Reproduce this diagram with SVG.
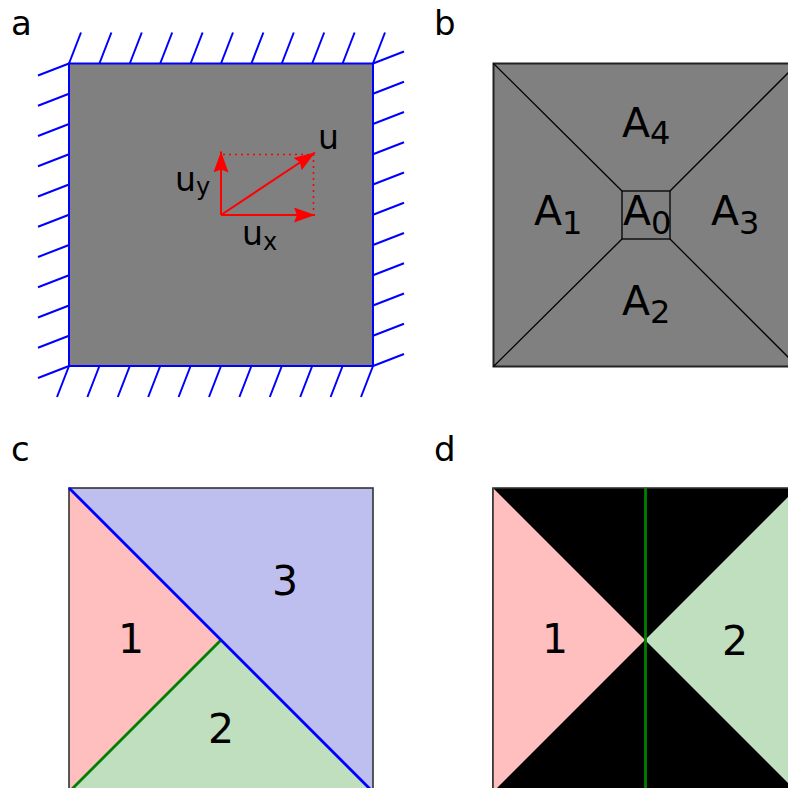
<svg xmlns="http://www.w3.org/2000/svg" width="788" height="788" viewBox="0 0 788 788">
<defs>
<style>
text{font-family:"DejaVu Sans","Verdana",sans-serif;fill:#000}
.plabel{font-size:34px}
.big{font-size:41px}
.sub{font-size:32px}
.ulab{font-size:33px}
.usub{font-size:24px}
.hatch{stroke:#0000ff;stroke-width:2;fill:none}
.vec{stroke:#ff0000;stroke-width:2;fill:none}
.dot{stroke:#ff0000;stroke-width:1.6;stroke-dasharray:2 4;fill:none}
.frame{stroke:#333;stroke-width:1.6}
</style>
<marker id="ah" viewBox="0 0 21 15" markerUnits="userSpaceOnUse" markerWidth="21" markerHeight="15" refX="21" refY="7.5" orient="auto">
<path d="M0,0 L21,7.5 L0,15 L3,7.5 z" fill="#ff0000"/>
</marker>
</defs>
<rect width="788" height="788" fill="#fff"/>

<!-- Panel labels -->
<g id="labels">
<text class="plabel" x="11" y="35">a</text>
<text class="plabel" x="434" y="35">b</text>
<text class="plabel" x="11" y="461">c</text>
<text class="plabel" x="434" y="461">d</text>
</g>

<!-- Panel a -->
<g id="panel-a">
<rect x="69" y="63.5" width="304" height="302.5" fill="#808080" stroke="#0000ff" stroke-width="2"/>
<path class="hatch" d="M69,63.5 l12,-31 M99.4,63.5 l12,-31 M129.8,63.5 l12,-31 M160.2,63.5 l12,-31 M190.6,63.5 l12,-31 M221,63.5 l12,-31 M251.4,63.5 l12,-31 M281.8,63.5 l12,-31 M312.2,63.5 l12,-31 M342.6,63.5 l12,-31 M373,63.5 l12,-31"/>
<path class="hatch" d="M69,366 l-12,31 M99.4,366 l-12,31 M129.8,366 l-12,31 M160.2,366 l-12,31 M190.6,366 l-12,31 M221,366 l-12,31 M251.4,366 l-12,31 M281.8,366 l-12,31 M312.2,366 l-12,31 M342.6,366 l-12,31 M373,366 l-12,31"/>
<path class="hatch" d="M69,63.5 l-31,12 M69,93.75 l-31,12 M69,124 l-31,12 M69,154.25 l-31,12 M69,184.5 l-31,12 M69,214.75 l-31,12 M69,245 l-31,12 M69,275.25 l-31,12 M69,305.5 l-31,12 M69,335.75 l-31,12 M69,366 l-31,12"/>
<path class="hatch" d="M373,63.5 l31,-12 M373,93.75 l31,-12 M373,124 l31,-12 M373,154.25 l31,-12 M373,184.5 l31,-12 M373,214.75 l31,-12 M373,245 l31,-12 M373,275.25 l31,-12 M373,305.5 l31,-12 M373,335.75 l31,-12 M373,366 l31,-12"/>
</g>
<g id="vectors">
<path class="dot" d="M223,154.5 H313.5 V214"/>
<line class="vec" x1="221" y1="215" x2="315" y2="215" marker-end="url(#ah)"/>
<line class="vec" x1="221" y1="215" x2="221" y2="151.5" marker-end="url(#ah)"/>
<line class="vec" x1="221" y1="215" x2="315" y2="152.5" marker-end="url(#ah)"/>
<text class="ulab" x="318" y="149">u</text>
<text class="ulab" x="175" y="191">u<tspan class="usub" dy="4">y</tspan></text>
<text class="ulab" x="242" y="245">u<tspan class="usub" dy="5">x</tspan></text>
</g>

<!-- Panel b -->
<g id="panel-b">
<rect x="493.5" y="63.5" width="304" height="303" fill="#808080" stroke="#222" stroke-width="2"/>
<path d="M493.5,63.5 L622,191 M797.5,63.5 L670,191 M493.5,366.5 L622,239 M797.5,366.5 L670,239" stroke="#000" stroke-width="1.3" fill="none"/>
<rect x="622" y="191" width="48" height="48" fill="none" stroke="#000" stroke-width="1.3"/>
<text class="big" x="622" y="137">A<tspan class="sub" dy="7">4</tspan></text>
<text class="big" x="534" y="225">A<tspan class="sub" dy="9">1</tspan></text>
<text class="big" x="623" y="225">A<tspan class="sub" dy="9">0</tspan></text>
<text class="big" x="711" y="225">A<tspan class="sub" dy="9">3</tspan></text>
<text class="big" x="622" y="315">A<tspan class="sub" dy="8">2</tspan></text>
</g>

<!-- Panel c -->
<g id="panel-c">
<polygon points="69,488 221,640 69,792" fill="#ffbfbf"/>
<polygon points="69,792 221,640 373,792" fill="#bfdfbf"/>
<polygon points="69,488 373,488 373,792" fill="#bfbfef"/>
<rect x="69" y="488" width="304" height="304" fill="none" class="frame"/>
<line x1="69" y1="792" x2="221" y2="640" stroke="#008000" stroke-width="2.8"/>
<line x1="69" y1="488" x2="373" y2="792" stroke="#0000ff" stroke-width="2.8"/>
<text class="big" x="131" y="653" text-anchor="middle">1</text>
<text class="big" x="221" y="743" text-anchor="middle">2</text>
<text class="big" x="285" y="595" text-anchor="middle">3</text>
</g>

<!-- Panel d -->
<g id="panel-d">
<rect x="493" y="488" width="304" height="304" fill="#000" class="frame"/>
<polygon points="493,488 645,640 493,792" fill="#ffbfbf"/>
<polygon points="797,488 645,640 797,792" fill="#bfdfbf"/>
<line x1="493" y1="488" x2="493" y2="792" class="frame"/>
<line x1="645.5" y1="488" x2="645.5" y2="792" stroke="#008000" stroke-width="2.8"/>
<text class="big" x="555" y="653" text-anchor="middle">1</text>
<text class="big" x="735" y="655" text-anchor="middle">2</text>
</g>
</svg>
